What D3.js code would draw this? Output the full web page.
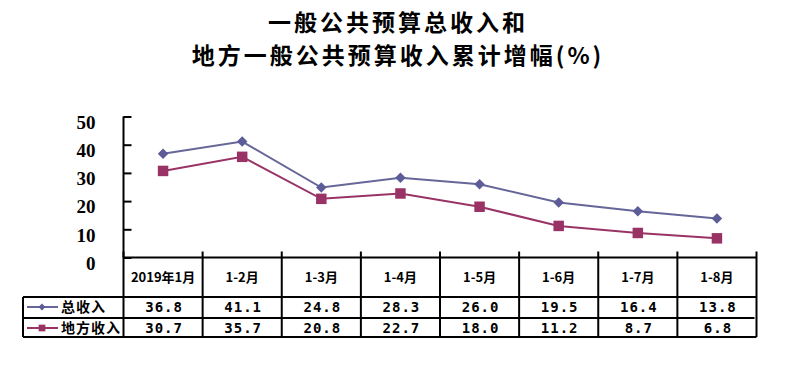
<!DOCTYPE html>
<html><head><meta charset="utf-8">
<script src="https://cdn.jsdelivr.net/npm/d3@7"></script>
<style>body{margin:0;background:#fff;} svg{display:block;}</style>
</head><body>
<svg id="c" width="800" height="380"></svg>
<script>
const categories = ["2019年1月","1-2月","1-3月","1-4月","1-5月","1-6月","1-7月","1-8月"];
const totalRevenue = [36.8, 41.1, 24.8, 28.3, 26.0, 19.5, 16.4, 13.8];
const localRevenue = [30.7, 35.7, 20.8, 22.7, 18.0, 11.2, 8.7, 6.8];
const seriesNames = ["总收入","地方收入"];
const yTicks = [0,10,20,30,40,50];
const titleLines = ["一般公共预算总收入和","地方一般公共预算收入累计增幅(%)"];

(function(){
const svg = d3.select("#c");
const pL = 123.5, pR = 756.5, pT = 116.5, pB = 257.5;
const x = d3.scaleBand().domain(categories).range([pL, pR]);
const y = d3.scaleLinear().domain([0, 50]).range([pB, pT]);

// title
svg.append("g").selectAll("text").data(titleLines).join("text")
  .attr("x", 398).attr("y", (d,i)=> 31 + i*33)
  .attr("text-anchor","middle")
  .attr("font-family","'Noto Sans CJK SC'").attr("font-weight","bold")
  .attr("font-size",23).attr("letter-spacing",3)
  .text(d=>d);

// y axis
const yAxis = d3.axisLeft(y).tickValues(yTicks).tickSize(-8).tickPadding(26);
const ga = svg.append("g").attr("transform",`translate(${pL},0)`).call(yAxis);
ga.select(".domain").attr("stroke","#000").attr("stroke-width",2).attr("d",`M0,${pT}V${pB}`);
ga.selectAll(".tick line").attr("stroke","#000").attr("stroke-width",2);
ga.selectAll(".tick text").attr("font-family","'Liberation Serif'").attr("font-weight","bold")
  .attr("font-size",19).attr("fill","#000").attr("dy","0.62em").attr("x",-28);

// table
const rowTop = pB, hdrBottom = 297, midLine = 318, tblBottom = 337, labelLeft = 23;
const tg = svg.append("g").attr("stroke","#000").attr("stroke-width",2);
tg.append("line").attr("x1",pL).attr("x2",pR).attr("y1",rowTop).attr("y2",rowTop);
tg.append("line").attr("x1",labelLeft).attr("x2",pR).attr("y1",hdrBottom).attr("y2",hdrBottom);
tg.append("line").attr("x1",labelLeft).attr("x2",pR-2).attr("y1",midLine).attr("y2",midLine);
tg.append("line").attr("x1",labelLeft).attr("x2",pR).attr("y1",tblBottom).attr("y2",tblBottom);
tg.append("line").attr("x1",labelLeft).attr("x2",labelLeft).attr("y1",hdrBottom).attr("y2",tblBottom);
const bounds = categories.map(c=>x(c)).concat([pR]);
tg.selectAll("line.v").data(bounds).join("line").attr("class","v")
  .attr("x1",d=>d).attr("x2",d=>d).attr("y1",rowTop-6).attr("y2",tblBottom);

svg.append("g").selectAll("text").data(categories).join("text")
  .attr("x",d=>x(d)+x.bandwidth()/2).attr("y",282)
  .attr("text-anchor","middle").attr("font-family","'Noto Sans CJK SC'").attr("font-weight","bold")
  .attr("font-size",13).text(d=>d);

const series = [
  {name: seriesNames[0], values: totalRevenue, color:"#666699", mcolor:"#5c5c99", shape:"diamond", rowY:312},
  {name: seriesNames[1], values: localRevenue, color:"#993366", mcolor:"#993366", shape:"square", rowY:333}
];

series.forEach(s=>{
  svg.append("g").selectAll("text").data(s.values).join("text")
    .attr("x",(d,i)=>x(categories[i])+x.bandwidth()/2+1).attr("y",s.rowY)
    .attr("text-anchor","middle").attr("font-family","'DejaVu Sans Mono'").attr("font-weight","bold")
    .attr("font-size",14).attr("letter-spacing",1)
    .text(d=>d3.format(".1f")(d));
  const line = d3.line().x((d,i)=>x(categories[i])+x.bandwidth()/2).y(d=>y(d));
  svg.append("path").datum(s.values).attr("d",line).attr("fill","none")
    .attr("stroke",s.color).attr("stroke-width",2);
  const sym = s.shape==="diamond" ? d3.symbol().type(d3.symbolDiamond2).size(70) : d3.symbol().type(d3.symbolSquare).size(110);
  svg.append("g").selectAll("path").data(s.values).join("path")
    .attr("transform",(d,i)=>`translate(${x(categories[i])+x.bandwidth()/2},${y(d)})`)
    .attr("d",sym).attr("fill",s.mcolor);
  const ly = s.rowY - 5;
  svg.append("line").attr("x1",27).attr("x2",58).attr("y1",ly).attr("y2",ly).attr("stroke",s.color).attr("stroke-width",2);
  const lsym = s.shape==="diamond" ? d3.symbol().type(d3.symbolDiamond2).size(30) : d3.symbol().type(d3.symbolSquare).size(45);
  svg.append("path").attr("transform",`translate(42,${ly})`).attr("d",lsym).attr("fill",s.mcolor);
  svg.append("text").attr("x",61).attr("y",s.rowY).attr("font-family","'Noto Sans CJK SC'")
    .attr("font-weight","bold").attr("font-size",14).attr("letter-spacing",1).text(s.name);
});
})();
</script>
</body></html>
